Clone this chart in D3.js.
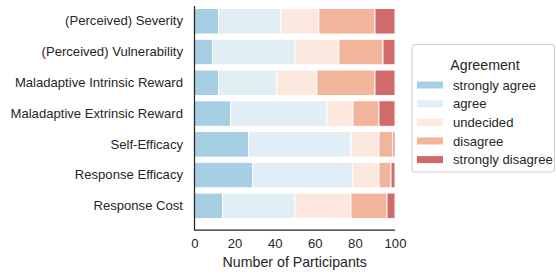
<!DOCTYPE html>
<html>
<head>
<meta charset="utf-8">
<script src="https://cdn.jsdelivr.net/npm/d3@7"></script>
<style>
  body { margin: 0; background: #fff; }
  svg { font-family: "Liberation Sans", Arial, sans-serif; display: block; }
</style>
</head>
<body>
<svg id="chart" width="556" height="275"></svg>
<script>
const categories = [
  "(Perceived) Severity",
  "(Perceived) Vulnerability",
  "Maladaptive Intrinsic Reward",
  "Maladaptive Extrinsic Reward",
  "Self-Efficacy",
  "Response Efficacy",
  "Response Cost",
];
const levels = ["strongly agree", "agree", "undecided", "disagree", "strongly disagree"];
const levelColors = ["#a6cfe3", "#e2eef5", "#fce8de", "#f2b49b", "#d16a6b"];

const stronglyAgree = [12, 9, 12, 18, 27, 29, 14];
const agree = [31, 41, 29, 48, 51, 50, 36];
const undecided = [19, 22, 20, 13, 14, 13, 28];
const disagree = [28, 22, 29, 13, 7, 6, 18];
const stronglyDisagree = [10, 6, 10, 8, 1, 2, 4];

const xTicks = [0, 20, 40, 60, 80, 100];

const series = [stronglyAgree, agree, undecided, disagree, stronglyDisagree];

const rows = categories.map((c, i) => {
  const r = { category: c };
  levels.forEach((l, j) => (r[l] = series[j][i]));
  return r;
});

const svg = d3.select("#chart");
const ink = "#262626";

const x = d3.scaleLinear().domain([0, 100]).range([194.5, 395]);
const y = d3
  .scaleBand()
  .domain(categories)
  .range([5.9, 221.2])
  .paddingInner(0.17)
  .paddingOuter(0.085);

const stack = d3.stack().keys(levels);
const stacked = stack(rows);

// bars
svg
  .append("g")
  .selectAll("g")
  .data(stacked)
  .enter()
  .append("g")
  .attr("fill", (d, i) => levelColors[i])
  .selectAll("rect")
  .data((d) => d)
  .enter()
  .append("rect")
  .attr("x", (d) => x(d[0]))
  .attr("width", (d) => x(d[1]) - x(d[0]))
  .attr("y", (d) => y(d.data.category))
  .attr("height", y.bandwidth())
  .attr("stroke", "#fff")
  .attr("stroke-width", 1);

// y axis labels
const yAxis = svg
  .append("g")
  .attr("transform", "translate(194.5,0)")
  .call(d3.axisLeft(y).tickSize(0).tickPadding(11.5));
yAxis.select(".domain").remove();
yAxis
  .selectAll("text")
  .attr("fill", ink)
  .attr("font-size", "13.1px")
  .attr("font-family", "Liberation Sans, Arial, sans-serif");

// x axis labels
const xAxis = svg
  .append("g")
  .attr("transform", "translate(0,230)")
  .call(d3.axisBottom(x).tickValues(xTicks).tickSize(0).tickPadding(9));
xAxis.select(".domain").remove();
xAxis
  .selectAll("text")
  .attr("fill", ink)
  .attr("font-size", "13.1px")
  .attr("font-family", "Liberation Sans, Arial, sans-serif");

// spines
svg.append("line")
  .attr("x1", 194.5).attr("x2", 194.5).attr("y1", 6).attr("y2", 230.6)
  .attr("stroke", ink).attr("stroke-width", 1.25);
svg.append("line")
  .attr("x1", 194.5).attr("x2", 395).attr("y1", 230).attr("y2", 230)
  .attr("stroke", ink).attr("stroke-width", 1.25);

svg.append("text")
  .attr("x", x(50))
  .attr("y", 267)
  .attr("text-anchor", "middle")
  .attr("fill", ink)
  .attr("font-size", "14.2px")
  .text("Number of Participants");

// legend
const legend = svg.append("g");
legend.append("rect")
  .attr("x", 412).attr("y", 44.5).attr("width", 142.5).attr("height", 127.5)
  .attr("rx", 3)
  .attr("fill", "#fff").attr("fill-opacity", 0.8)
  .attr("stroke", "#cccccc").attr("stroke-width", 1);
legend.append("text")
  .attr("x", 485).attr("y", 70)
  .attr("text-anchor", "middle")
  .attr("fill", ink)
  .attr("font-size", "14.2px")
  .text("Agreement");

const item = legend
  .selectAll(".item")
  .data(levels)
  .enter()
  .append("g")
  .attr("class", "item")
  .attr("transform", (d, i) => `translate(0,${85 + i * 18.65})`);
item.append("rect")
  .attr("x", 417).attr("y", -3.5).attr("width", 26).attr("height", 7)
  .attr("fill", (d, i) => levelColors[i]);
item.append("text")
  .attr("x", 453).attr("y", 4.6)
  .attr("fill", ink)
  .attr("font-size", "13.1px")
  .text((d) => d);
</script>
</body>
</html>
